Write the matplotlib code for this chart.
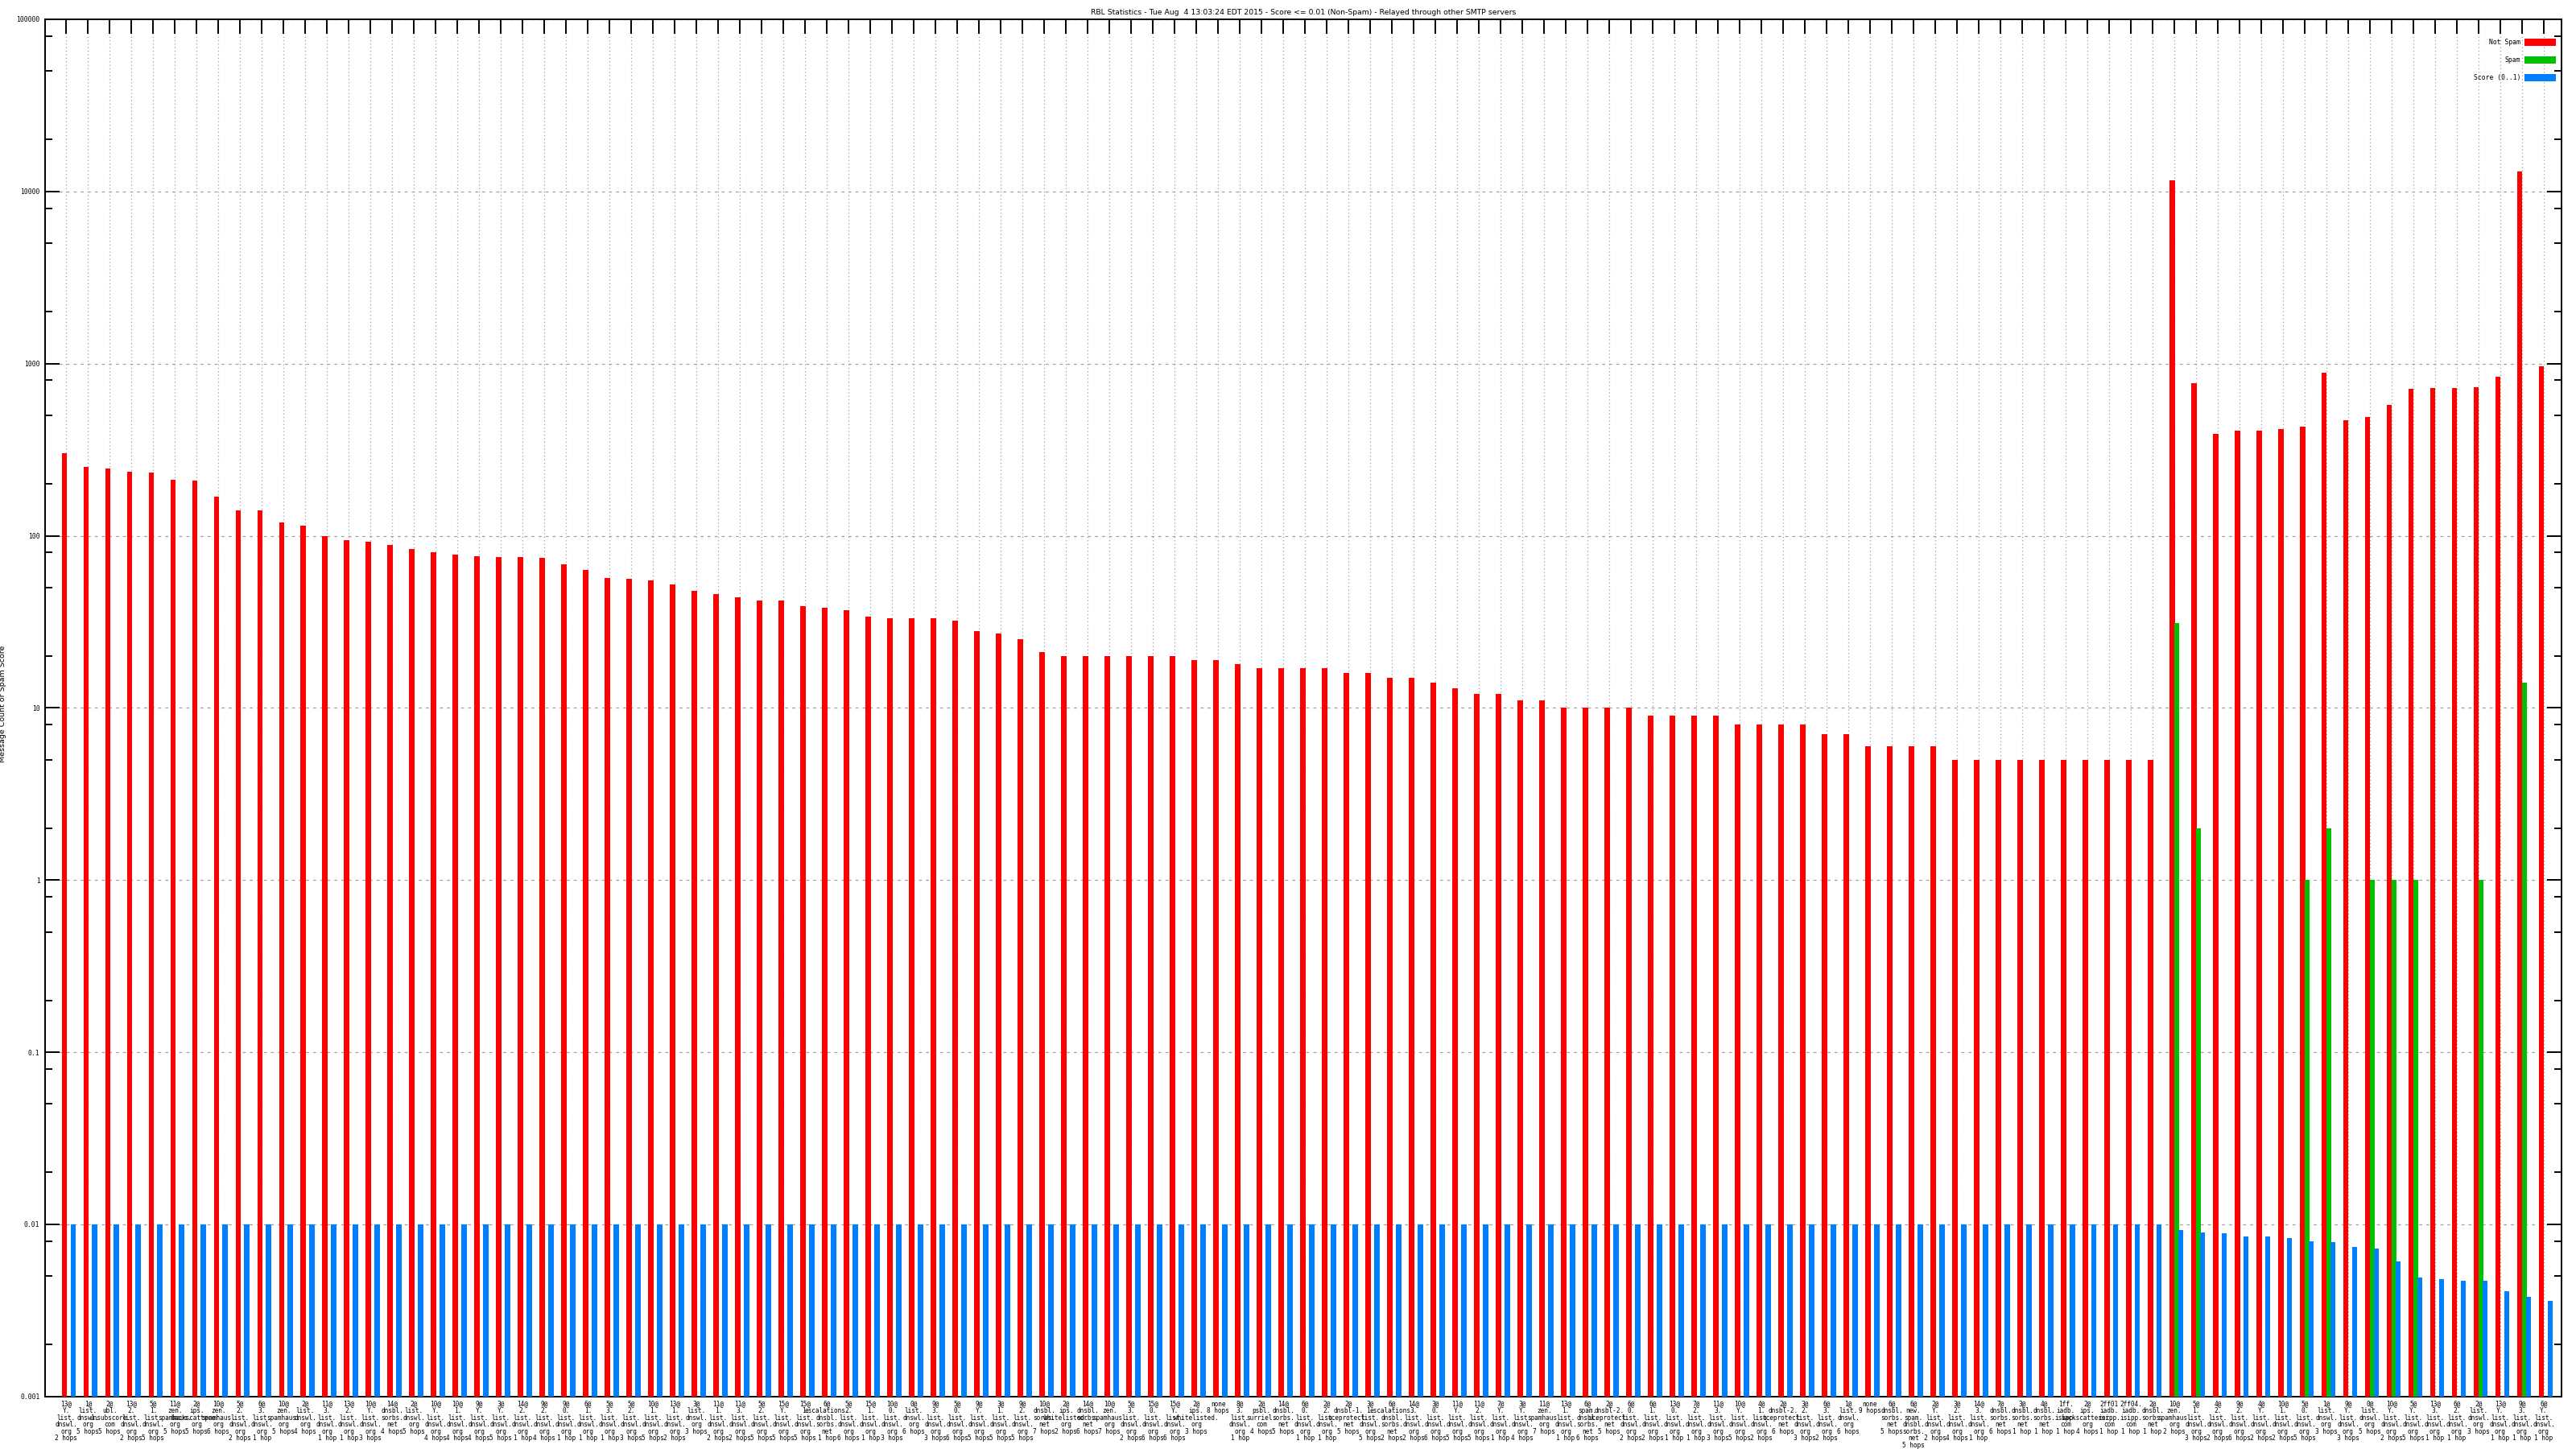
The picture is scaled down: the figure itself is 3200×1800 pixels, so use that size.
import re
import matplotlib
matplotlib.use("Agg")
import matplotlib.pyplot as plt
import numpy as np
from matplotlib.ticker import LogLocator, FixedLocator, NullFormatter

# first line of every x label (relay / prefix)
prefixes = ["13@", "1@", "2@", "13@", "5@", "11@", "2@", "10@", "5@", "6@",
            "10@", "2@", "11@", "13@", "10@", "14@", "2@", "10@", "10@", "9@",
            "3@", "14@", "9@", "9@", "6@", "5@", "5@", "10@", "13@", "3@",
            "11@", "11@", "5@", "15@", "15@", "6@", "5@", "15@", "10@", "0@",
            "9@", "5@", "9@", "3@", "9@", "10@", "2@", "14@", "10@", "5@",
            "15@", "15@", "2@", "none", "8@", "2@", "14@", "6@", "2@", "2@",
            "3@", "6@", "14@", "3@", "11@", "11@", "7@", "3@", "11@", "13@",
            "6@", "2@", "6@", "6@", "13@", "7@", "11@", "10@", "4@", "2@",
            "3@", "6@", "1@", "none", "6@", "6@", "2@", "3@", "14@", "7@",
            "3@", "4@", "1ff.", "2@", "2ff01", "2ff04.", "2@", "10@", "5@", "4@",
            "9@", "4@", "10@", "5@", "1@", "9@", "0@", "10@", "5@", "13@",
            "6@", "2@", "13@", "9@", "6@"]

hosts = ["Y.list.dnswl.org", "list.dnswl.org", "ubl.unsubscore.com", "2.list.dnswl.org",
         "1.list.dnswl.org", "zen.spamhaus.org", "ips.backscatterer.org", "zen.spamhaus.org",
         "2.list.dnswl.org", "3.list.dnswl.org", "zen.spamhaus.org", "list.dnswl.org",
         "3.list.dnswl.org", "2.list.dnswl.org", "Y.list.dnswl.org", "dnsbl.sorbs.net",
         "list.dnswl.org", "Y.list.dnswl.org", "1.list.dnswl.org", "Y.list.dnswl.org",
         "Y.list.dnswl.org", "2.list.dnswl.org", "2.list.dnswl.org", "0.list.dnswl.org",
         "1.list.dnswl.org", "3.list.dnswl.org", "2.list.dnswl.org", "1.list.dnswl.org",
         "1.list.dnswl.org", "list.dnswl.org", "1.list.dnswl.org", "3.list.dnswl.org",
         "2.list.dnswl.org", "Y.list.dnswl.org", "1.list.dnswl.org",
         "escalations.dnsbl.sorbs.net", "2.list.dnswl.org", "1.list.dnswl.org",
         "0.list.dnswl.org", "list.dnswl.org", "3.list.dnswl.org", "0.list.dnswl.org",
         "Y.list.dnswl.org", "1.list.dnswl.org", "2.list.dnswl.org", "dnsbl.sorbs.net",
         "ips.whitelisted.org", "dnsbl.sorbs.net", "zen.spamhaus.org", "3.list.dnswl.org",
         "0.list.dnswl.org", "Y.list.dnswl.org", "ips.whitelisted.org", "",
         "3.list.dnswl.org", "psbl.surriel.com", "dnsbl.sorbs.net", "0.list.dnswl.org",
         "2.list.dnswl.org", "dnsbl-1.uceprotect.net", "1.list.dnswl.org",
         "escalations.dnsbl.sorbs.net", "3.list.dnswl.org", "0.list.dnswl.org",
         "Y.list.dnswl.org", "2.list.dnswl.org", "Y.list.dnswl.org", "Y.list.dnswl.org",
         "zen.spamhaus.org", "1.list.dnswl.org", "spam.dnsbl.sorbs.net",
         "dnsbl-2.uceprotect.net", "0.list.dnswl.org", "1.list.dnswl.org",
         "0.list.dnswl.org", "2.list.dnswl.org", "3.list.dnswl.org", "Y.list.dnswl.org",
         "1.list.dnswl.org", "dnsbl-2.uceprotect.net", "2.list.dnswl.org",
         "3.list.dnswl.org", "list.dnswl.org", "", "dnsbl.sorbs.net",
         "new.spam.dnsbl.sorbs.net", "Y.list.dnswl.org", "2.list.dnswl.org",
         "3.list.dnswl.org", "dnsbl.sorbs.net", "dnsbl.sorbs.net", "dnsbl.sorbs.net",
         "iadb.isipp.com", "ips.backscatterer.org", "iadb.isipp.com", "iadb.isipp.com",
         "dnsbl.sorbs.net", "zen.spamhaus.org", "1.list.dnswl.org", "2.list.dnswl.org",
         "2.list.dnswl.org", "Y.list.dnswl.org", "1.list.dnswl.org", "0.list.dnswl.org",
         "list.dnswl.org", "Y.list.dnswl.org", "list.dnswl.org", "Y.list.dnswl.org",
         "Y.list.dnswl.org", "3.list.dnswl.org", "2.list.dnswl.org", "list.dnswl.org",
         "Y.list.dnswl.org", "3.list.dnswl.org", "Y.list.dnswl.org"]

hops = [2, 5, 5, 2, 5, 5, 5, 6, 2, 1,
        5, 4, 1, 1, 3, 4, 5, 4, 4, 4,
        5, 1, 4, 1, 1, 1, 3, 5, 2, 3,
        2, 2, 5, 5, 5, 1, 6, 1, 3, 6,
        3, 6, 5, 5, 5, 7, 2, 6, 7, 2,
        6, 6, 3, 8, 1, 4, 5, 1, 1, 5,
        5, 2, 2, 6, 5, 5, 1, 4, 7, 1,
        6, 5, 2, 2, 1, 1, 3, 5, 2, 6,
        3, 2, 6, 9, 5, 5, 2, 4, 1, 6,
        1, 1, 1, 4, 1, 1, 1, 2, 3, 2,
        6, 2, 2, 5, 3, 3, 5, 2, 5, 1,
        1, 3, 1, 1, 1]

not_spam = [300, 250, 245, 235, 232, 212, 210, 168, 140, 140,
            120, 114, 100, 94, 92, 88, 84, 80, 78, 76,
            75, 75, 74, 68, 63, 57, 56, 55, 52, 48,
            46, 44, 42, 42, 39, 38, 37, 34, 33, 33,
            33, 32, 28, 27, 25, 21, 20, 20, 20, 20,
            20, 20, 19, 19, 18, 17, 17, 17, 17, 16,
            16, 15, 15, 14, 13, 12, 12, 11, 11, 10,
            10, 10, 10, 9, 9, 9, 9, 8, 8, 8,
            8, 7, 7, 6, 6, 6, 6, 5, 5, 5,
            5, 5, 5, 5, 5, 5, 5, 11600, 771, 390,
            408, 408, 418, 432, 883, 468, 490, 574, 712, 720,
            720, 728, 843, 13000, 966]

spam = [0] * 97 + [31, 2, 0, 0, 0, 0, 1, 2, 0, 1, 1, 1, 0, 0, 1, 0, 14, 0]

score = [0.01] * 97 + [0.0093, 0.009, 0.0089, 0.0085, 0.0085, 0.0083, 0.008, 0.0079,
                       0.0074, 0.0072, 0.0061, 0.0049, 0.0048, 0.0047, 0.0047,
                       0.0041, 0.0038, 0.0036]


def make_label(first, host, n):
    lines = [first] + re.findall(r"[^.]+\.?", host)
    lines.append("1 hop" if n == 1 else f"{n} hops")
    return "\n".join(lines)


labels = [make_label(p, h, n) for p, h, n in zip(prefixes, hosts, hops)]

RED, GREEN, BLUE = "#ff0000", "#00c000", "#0080ff"
MONO = "DejaVu Sans Mono"

fig = plt.figure(figsize=(32, 18), dpi=100)
ax = fig.add_axes([0.01741, 0.03628, 0.97697, 0.95039])

x = np.arange(len(labels))
w = 0.235
ax.bar(x - 0.096, not_spam, w, color=RED, label="Not Spam", zorder=3)
spam_arr = np.array(spam, dtype=float)
has = spam_arr > 0
ax.bar(x[has] + 0.104, spam_arr[has], w, color=GREEN, label="Spam", zorder=3)
ax.bar(x + 0.31, score, w, color=BLUE, label="Score (0..1)", zorder=3)

ax.set_yscale("log")
ax.set_ylim(0.001, 100000)
ax.set_xlim(-0.985, 114.82)

ax.yaxis.set_major_locator(FixedLocator([10.0 ** e for e in range(-3, 6)]))
ax.yaxis.set_minor_locator(LogLocator(base=10, subs=(2, 5, 8), numticks=20))
ax.yaxis.set_minor_formatter(NullFormatter())
ax.set_yticklabels(["0.001", "0.01", "0.1", "1", "10", "100", "1000", "10000", "100000"],
                   fontsize=5.8, family=MONO)
ax.tick_params(axis="y", which="major", direction="in", left=True, right=True,
               length=13, width=1.4, pad=4.5)
ax.tick_params(axis="y", which="minor", direction="in", left=True, right=True,
               length=6.5, width=1.4)

ax.set_xticks(x)
ax.set_xticklabels(labels, fontsize=5.6, family=MONO, linespacing=0.93)
ax.tick_params(axis="x", direction="in", bottom=False, top=True, labelbottom=True,
               length=13, width=1.4, pad=3.5)

ax.grid(True, axis="x", color="#a0a0a0", linestyle=(0, (1, 2.5)), linewidth=0.9, zorder=0)
ax.grid(True, axis="y", which="major", color="#a0a0a0", linestyle=(0, (3, 4)),
        linewidth=0.9, zorder=0)
for s in ax.spines.values():
    s.set_linewidth(1.4)

ax.set_title("RBL Statistics - Tue Aug  4 13:03:24 EDT 2015 - Score <= 0.01 (Non-Spam)"
             " - Relayed through other SMTP servers", fontsize=6.7, pad=4)
ax.set_ylabel("Message Count or Spam Score", fontsize=6.8)
ax.yaxis.set_label_coords(-0.0153, 0.503)

ax.legend(loc="upper right", bbox_to_anchor=(0.99776, 0.9862), frameon=False,
          markerfirst=False, prop={"family": MONO, "size": 5.8}, handlelength=4.84,
          handleheight=1.35, labelspacing=1.6, borderaxespad=0, borderpad=0,
          handletextpad=0.62)

fig.savefig("out.png", dpi=100)
